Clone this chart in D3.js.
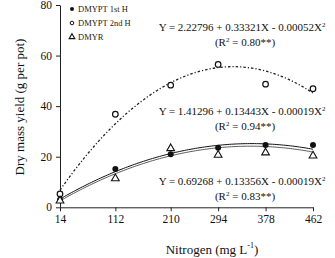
<!DOCTYPE html>
<html>
<head>
<meta charset="utf-8">
<script src="https://cdn.jsdelivr.net/npm/d3@7/dist/d3.min.js"></script>
<style>
  body { margin: 0; background: #fff; }
  svg { display: block; font-family: "Liberation Serif", "DejaVu Serif", serif; }
</style>
</head>
<body>
<svg width="335" height="258"></svg>
<script>
    var nitrogen = [14, 112, 210, 294, 378, 462]
    var yTicks = [0, 20, 40, 60, 80]

    var harvest1 = [3, 15.1, 21, 23.5, 24.6, 24.6]      // DMYPT 1st H
    var harvest2 = [5.3, 36.8, 48.3, 56.5, 48.7, 46.9]  // DMYPT 2nd H
    var regrowth = [2.6, 11.4, 23.3, 20.7, 21.6, 20.4]  // DMYR

    // regression coefficients printed on the chart [a, b, c] for Y = a + bX + cX^2
    var fit1 = [1.41296, 0.13443, -0.00019]
    var fit2 = [2.22796, 0.33321, -0.00052]
    var fitR = [0.69268, 0.13356, -0.00019]

    var width = 335
    var height = 258
    var margin = {top: 5, bottom: 51, left: 60, right: 22}
    var serif = '"Liberation Serif", "DejaVu Serif", serif'

    var svg = d3.select('svg')

    var xScale = d3.scaleLinear()
      .domain([14, 462])
      .range([margin.left, width - margin.right])

    var yScale = d3.scaleLinear()
      .domain([0, 80])
      .range([height - margin.bottom + 0.3, margin.top])

    var xAxis = d3.axisBottom(xScale).tickValues(nitrogen).tickSize(4).tickSizeOuter(0).tickPadding(4)
    var yAxis = d3.axisLeft(yScale).tickValues(yTicks).tickSize(4).tickSizeOuter(0).tickPadding(4)

    var gx = svg.append('g')
      .attr('transform', 'translate(' + [0, yScale(0)] + ')')
      .call(xAxis)
    var gy = svg.append('g')
      .attr('transform', 'translate(' + [margin.left, 0] + ')')
      .call(yAxis)

    svg.selectAll('.tick text')
      .style('font-family', serif)
      .style('font-size', '11.5px')
      .attr('fill', '#111')
    svg.selectAll('.domain, .tick line').attr('stroke', '#222').attr('stroke-width', 1)

    // fitted curves
    function curve(c) {
      return d3.range(14, 463, 4).map(x => [x, c[0] + c[1] * x + c[2] * x * x])
    }
    var line = d3.line()
      .x(d => xScale(d[0]))
      .y(d => yScale(d[1]))
      .curve(d3.curveMonotoneX)

    svg.append('path').datum(curve(fit2))
      .attr('d', line).attr('fill', 'none')
      .attr('stroke', '#222').attr('stroke-width', 1.3)
      .attr('stroke-dasharray', '2.5,2,1.2,2')
    svg.append('path').datum(curve(fit1))
      .attr('d', line).attr('fill', 'none')
      .attr('stroke', '#111').attr('stroke-width', 1)
    svg.append('path').datum(curve(fitR))
      .attr('d', line).attr('fill', 'none')
      .attr('stroke', '#333').attr('stroke-width', 0.8)

    // markers
    var tri = d3.symbol().type(d3.symbolTriangle).size(26)

    svg.selectAll('.m2').data(harvest2).enter().append('circle')
      .attr('cx', (d, i) => xScale(nitrogen[i]))
      .attr('cy', d => yScale(d))
      .attr('r', 2.8)
      .attr('fill', '#fff').attr('stroke', '#111').attr('stroke-width', 1.2)

    svg.selectAll('.m1').data(harvest1).enter().append('circle')
      .attr('cx', (d, i) => xScale(nitrogen[i]))
      .attr('cy', d => yScale(d))
      .attr('r', 3)
      .attr('fill', '#111')

    svg.selectAll('.mr').data(regrowth).enter().append('path')
      .attr('d', tri)
      .attr('transform', (d, i) => 'translate(' + [xScale(nitrogen[i]), yScale(d)] + ')')
      .attr('fill', '#fff').attr('stroke', '#111').attr('stroke-width', 1.1)

    // legend
    var legend = svg.append('g').attr('font-size', 8.5).attr('fill', '#222')
    legend.append('circle').attr('cx', 72).attr('cy', 9).attr('r', 2).attr('fill', '#111')
    legend.append('circle').attr('cx', 72).attr('cy', 23).attr('r', 1.8).attr('fill', '#fff').attr('stroke', '#111').attr('stroke-width', 1)
    legend.append('path').attr('d', d3.symbol().type(d3.symbolTriangle).size(14))
      .attr('transform', 'translate(72,37)').attr('fill', '#fff').attr('stroke', '#111').attr('stroke-width', 1.1)
    legend.append('text').attr('x', 78).attr('y', 12).text('DMYPT 1st H')
    legend.append('text').attr('x', 78).attr('y', 26).text('DMYPT 2nd H')
    legend.append('text').attr('x', 78).attr('y', 40).text('DMYR')

    // equations
    function equation(fit, x, y, r2) {
      var t = svg.append('text').attr('x', x).attr('y', y)
        .attr('text-anchor', 'middle').attr('font-size', 11).attr('fill', '#111')
      t.append('tspan').text('Y = ' + fit[0].toFixed(5) + ' + ' + fit[1].toFixed(5) + 'X - ' + Math.abs(fit[2]).toFixed(5) + 'X')
      t.append('tspan').attr('font-size', 7).attr('dy', -4).text('2')
      var r = svg.append('text').attr('x', x + 3).attr('y', y + 15)
        .attr('text-anchor', 'middle').attr('font-size', 11).attr('fill', '#111')
      r.append('tspan').text('(R')
      r.append('tspan').attr('font-size', 7).attr('dy', -4).text('2')
      r.append('tspan').attr('dy', 4).text(' = ' + r2 + '**)')
    }
    equation(fit2, 242, 31, '0.80')
    equation(fit1, 242, 115, '0.94')
    equation(fitR, 242, 185, '0.83')

    // axis titles
    svg.append('text')
      .attr('transform', 'translate(24,107) rotate(-90)')
      .attr('text-anchor', 'middle').attr('font-size', 13).attr('fill', '#111')
      .text('Dry mass yield (g per pot)')

    var xt = svg.append('text').attr('x', 212).attr('y', 254)
      .attr('text-anchor', 'middle').attr('font-size', 13).attr('fill', '#111')
    xt.append('tspan').text('Nitrogen (mg L')
    xt.append('tspan').attr('font-size', 8).attr('dy', -6).text('-1')
    xt.append('tspan').attr('dy', 6).text(')')
</script>
</body>
</html>
